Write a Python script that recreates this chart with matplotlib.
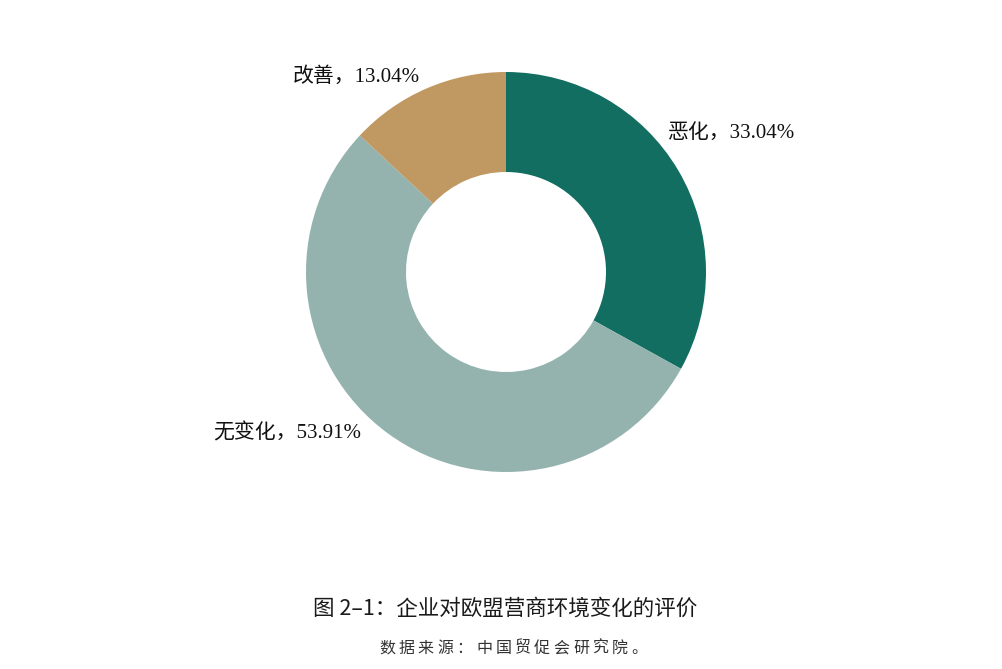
import matplotlib.pyplot as plt

# 企业对欧盟营商环境变化的评价
categories = ['恶化', '无变化', '改善']
shares = [33.04, 53.91, 13.04]
colors = ['#136e62', '#94b3af', '#c09862']

title = '图 2–1：企业对欧盟营商环境变化的评价'
source = '数据来源：中国贸促会研究院。'

label_font = ['Liberation Serif', 'Noto Sans CJK SC']
plt.rcParams['font.family'] = ['Noto Sans CJK SC', 'DejaVu Sans']

fig = plt.figure(figsize=(10.03, 6.69), dpi=100)
# donut centred at about (506, 272) px with radius 200 px
ax = fig.add_axes([306 / 1003, 197 / 669, 400 / 1003, 400 / 669])
wedges, _ = ax.pie(shares, colors=colors, startangle=90, counterclock=False,
                   radius=1, wedgeprops=dict(width=0.5, edgecolor='none'))
ax.set_xlim(-1, 1)
ax.set_ylim(-1, 1)
ax.set_aspect('equal')
ax.axis('off')

# label spots (data units of the donut axes)
label_pos = {'恶化': (1.13, 0.695), '无变化': (-1.095, -0.805), '改善': (-0.75, 0.975)}
for name, val in zip(categories, shares):
    x, y = label_pos[name]
    ax.text(x, y, f'{name}，{val:.2f}%', ha='center', va='center',
            fontsize=15, family=label_font, color='#111111', clip_on=False)

fig.text(0.5035, (669 - 609) / 669, title, ha='center', va='center',
         fontsize=15.5, color='#1a1a1a')

# source line with widened character spacing
pitch = 19.4
x0 = 380 + 7
for i, ch in enumerate(source):
    fig.text((x0 + i * pitch) / 1003, (669 - 648) / 669, ch, ha='center',
             va='center', fontsize=11.5, color='#333333')

fig.savefig('out.png', dpi=100, facecolor='white')
